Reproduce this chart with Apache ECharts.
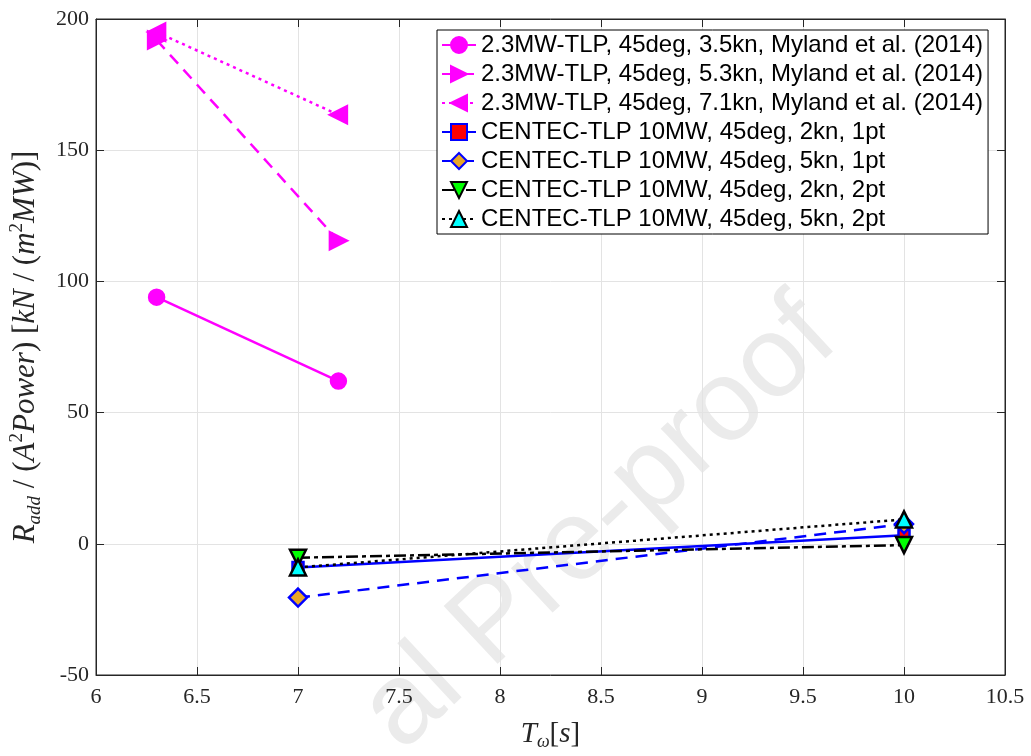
<!DOCTYPE html>
<html>
<head>
<meta charset="utf-8">
<script src="https://cdn.jsdelivr.net/npm/echarts@6/dist/echarts.min.js"></script>
<style>
  html, body { margin: 0; padding: 0; background: #fff; }
  #main { width: 1031px; height: 756px; }
</style>
</head>
<body>
<div id="main"></div>
<script>
// data
var names = [
  "2.3MW-TLP, 45deg, 3.5kn, Myland et al. (2014)",
  "2.3MW-TLP, 45deg, 5.3kn, Myland et al. (2014)",
  "2.3MW-TLP, 45deg, 7.1kn, Myland et al. (2014)",
  "CENTEC-TLP 10MW, 45deg, 2kn, 1pt",
  "CENTEC-TLP 10MW, 45deg, 5kn, 1pt",
  "CENTEC-TLP 10MW, 45deg, 2kn, 2pt",
  "CENTEC-TLP 10MW, 45deg, 5kn, 2pt"
];
var xMyland = [6.3, 7.2];
var xCentec = [7, 10];
var y35kn = [94, 62];
var y53kn = [192, 115.5];
var y71kn = [195, 163.5];
var y2kn1pt = [-9, 3.3];
var y5kn1pt = [-20.5, 7.5];
var y2kn2pt = [-5.3, -0.5];
var y5kn2pt = [-9, 9.3];

function pts(xs, ys) {
  var out = [];
  for (var i = 0; i < xs.length; i++) out.push([xs[i], ys[i]]);
  return out;
}

var magenta = "#ff00ff";
var blue = "#0000ff";

var styles = [
  {x: xMyland, y: y35kn, color: magenta, type: "solid", symbol: "circle", size: 15, rot: 0, fill: magenta, border: magenta},
  {x: xMyland, y: y53kn, color: magenta, type: [12, 8], symbol: "triangle", size: 17, rot: -90, fill: magenta, border: magenta},
  {x: xMyland, y: y71kn, color: magenta, type: [3, 4], symbol: "triangle", size: 17, rot: 90, fill: magenta, border: magenta},
  {x: xCentec, y: y2kn1pt, color: blue, type: "solid", symbol: "rect", size: 11, rot: 0, fill: "#ff0000", border: blue},
  {x: xCentec, y: y5kn1pt, color: blue, type: [12, 8], symbol: "diamond", size: 18, rot: 0, fill: "#e8a628", border: blue},
  {x: xCentec, y: y2kn2pt, color: "#000", type: [12, 4, 4, 4], symbol: "triangle", size: 16, rot: 180, fill: "#00ff00", border: "#000"},
  {x: xCentec, y: y5kn2pt, color: "#000", type: [3, 4], symbol: "triangle", size: 16, rot: 0, fill: "#00ffff", border: "#000"}
];

var series = styles.map(function (s, i) {
  return {
    name: names[i],
    type: "line",
    data: pts(s.x, s.y),
    symbol: s.symbol,
    symbolSize: s.size,
    symbolRotate: s.rot,
    showAllSymbol: true,
    lineStyle: {color: s.color, width: 2.5, type: s.type},
    itemStyle: {color: s.fill, borderColor: s.border, borderWidth: 2.5},
    emphasis: {disabled: true},
    z: 3 + i
  };
});

var serif = "'Liberation Serif', 'DejaVu Serif', serif";
var ink = "#262626";

var chart = echarts.init(document.getElementById("main"));
chart.setOption({
  animation: false,
  backgroundColor: "#fff",
  grid: {left: 95, right: 26, top: 19, bottom: 76, show: true, borderColor: ink, borderWidth: 1},
  legend: {
    orient: "vertical",
    left: 437,
    top: 30,
    data: names,
    backgroundColor: "#fff",
    borderColor: "#000",
    borderWidth: 1,
    padding: [3, 5, 3, 4],
    itemGap: 5,
    itemWidth: 34,
    itemHeight: 20,
    symbolRotate: "inherit",
    textStyle: {fontFamily: "'Liberation Sans', Arial, sans-serif", fontSize: 24, color: "#000"}
  },
  xAxis: [{
    type: "value",
    min: 6, max: 10.5, interval: 0.5,
    name: "{i|T}{s|ω}{n|[}{i|s}{n|]}",
    nameLocation: "middle",
    nameGap: 42,
    nameTextStyle: {
      rich: {
        i: {fontFamily: serif, fontStyle: "italic", fontSize: 29, color: ink, lineHeight: 34},
        n: {fontFamily: serif, fontSize: 29, color: ink, lineHeight: 34},
        s: {fontFamily: serif, fontStyle: "italic", fontSize: 18, color: ink, verticalAlign: "bottom", lineHeight: 34}
      }
    },
    axisLine: {show: true, onZero: false, lineStyle: {color: ink}},
    axisTick: {show: true, inside: true, length: 8, lineStyle: {color: ink}},
    axisLabel: {
      fontFamily: serif, fontSize: 22, color: ink, margin: 11,
      formatter: function (v) { return String(Math.round(v * 10) / 10); }
    },
    splitLine: {show: true, lineStyle: {color: "#e3e3e3", width: 1}}
  }, {
    type: "value", position: "top",
    min: 6, max: 10.5, interval: 0.5,
    axisLine: {show: true, onZero: false, lineStyle: {color: ink}},
    axisTick: {show: true, inside: true, length: 8, lineStyle: {color: ink}},
    axisLabel: {show: false},
    splitLine: {show: false}
  }],
  yAxis: [{
    type: "value",
    min: -50, max: 200, interval: 50,
    name: "{i|R}{s|add}{n| / (}{i|A}{p|2}{i|Power}{n|) [}{i|kN}{n| / (}{i|m}{p|2}{i|MW}{n|)]}",
    nameLocation: "middle",
    nameGap: 52,
    nameRotate: 90,
    nameTextStyle: {
      rich: {
        i: {fontFamily: serif, fontStyle: "italic", fontSize: 31, color: ink, lineHeight: 36},
        n: {fontFamily: serif, fontSize: 31, color: ink, lineHeight: 36},
        s: {fontFamily: serif, fontStyle: "italic", fontSize: 19, color: ink, verticalAlign: "bottom", lineHeight: 36},
        p: {fontFamily: serif, fontSize: 19, color: ink, verticalAlign: "top", lineHeight: 36}
      }
    },
    axisLine: {show: true, onZero: false, lineStyle: {color: ink}},
    axisTick: {show: true, inside: true, length: 8, lineStyle: {color: ink}},
    axisLabel: {fontFamily: serif, fontSize: 22, color: ink, margin: 7},
    splitLine: {show: true, lineStyle: {color: "#e3e3e3", width: 1}}
  }, {
    type: "value", position: "right",
    min: -50, max: 200, interval: 50,
    axisLine: {show: true, onZero: false, lineStyle: {color: ink}},
    axisTick: {show: true, inside: true, length: 8, lineStyle: {color: ink}},
    axisLabel: {show: false},
    splitLine: {show: false}
  }],
  graphic: [{
    type: "text",
    x: 600, y: 525,
    rotation: 0.75,
    z: -10,
    silent: true,
    style: {
      text: "al Pre-proof",
      fontFamily: "'Liberation Sans', Arial, sans-serif",
      fontSize: 115,
      fill: "#ebebeb",
      textAlign: "center",
      textVerticalAlign: "middle"
    }
  }],
  series: series
});
</script>
</body>
</html>
